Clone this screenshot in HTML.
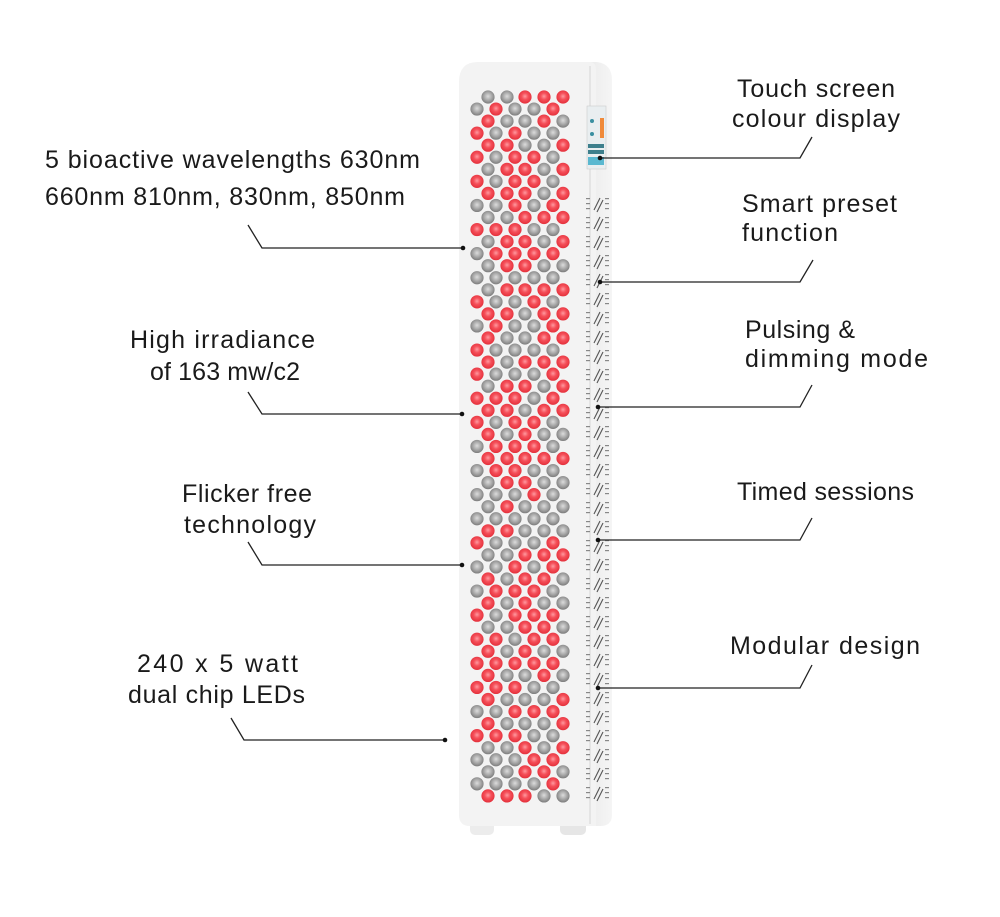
<!DOCTYPE html>
<html><head><meta charset="utf-8"><style>
html,body{margin:0;padding:0;background:#fff;}
svg{display:block;}
text{font-family:"Liberation Sans",sans-serif;font-size:25px;fill:#1a1a1a;}
</style></head><body>
<svg id="s" width="1000" height="917" viewBox="0 0 1000 917" xmlns="http://www.w3.org/2000/svg">
<defs>
<radialGradient id="rg" cx="50%" cy="45%" r="55%"><stop offset="0" stop-color="#ff9aa0"/><stop offset="0.45" stop-color="#f5505a"/><stop offset="1" stop-color="#e4303b"/></radialGradient>
<radialGradient id="gg" cx="50%" cy="45%" r="55%"><stop offset="0" stop-color="#dcdcdc"/><stop offset="0.55" stop-color="#a8a8a8"/><stop offset="1" stop-color="#7c7c7c"/></radialGradient>
<linearGradient id="side" x1="0" x2="1"><stop offset="0" stop-color="#e6e6e6"/><stop offset="1" stop-color="#f5f5f5"/></linearGradient>
</defs>
<rect x="470" y="815" width="24" height="20" rx="5" fill="#ececec"/>
<rect x="560" y="815" width="26" height="20" rx="5" fill="#e6e6e6"/>
<path d="M575 62 L597 62 Q612 64 612 80 L612 815 Q612 826 600 826 L580 826 Z" fill="url(#side)"/>
<path d="M478 62 L590 62 Q596 62 596 70 L596 826 L470 826 Q459 826 459 815 L459 82 Q459 62 478 62 Z" fill="#f3f3f3"/>
<line x1="590" y1="66" x2="590" y2="824" stroke="#e4e4e4" stroke-width="2"/>
<rect x="587" y="106" width="19" height="63" fill="#e9eef0" stroke="#ccc" stroke-width="0.6"/>
<rect x="600" y="118" width="4" height="20" fill="#f08a3a"/>
<circle cx="592" cy="121" r="2" fill="#3a8fa0"/>
<circle cx="592" cy="134" r="2" fill="#3a8fa0"/>
<rect x="588" y="144" width="16" height="4" fill="#3d7f8c"/>
<rect x="588" y="150" width="16" height="4" fill="#3d7f8c"/>
<rect x="588" y="157" width="16" height="8" fill="#5ab8d0"/>
<g id="vents"></g>
<g id="leds"></g>
<g stroke="#222" stroke-width="1.3" fill="none">
<polyline points="248,225 262,248 463,248"/>
<polyline points="248,392 262,414 462,414"/>
<polyline points="248,542 262,565 462,565"/>
<polyline points="231,718 244,740 445,740"/>
<polyline points="600,158 800,158 812,137"/>
<polyline points="600,282 800,282 813,260"/>
<polyline points="598,407 800,407 812,385"/>
<polyline points="598,540 800,540 812,518"/>
<polyline points="598,688 800,688 812,665"/>
</g>
<g fill="#111">
<circle cx="463" cy="248" r="2.3"/><circle cx="462" cy="414" r="2.3"/><circle cx="462" cy="565" r="2.3"/><circle cx="445" cy="740" r="2.3"/>
<circle cx="600" cy="158" r="2.3"/><circle cx="600" cy="282" r="2.3"/><circle cx="598" cy="407" r="2.3"/><circle cx="598" cy="540" r="2.3"/><circle cx="598" cy="688" r="2.3"/>
</g>
<text x="45" y="168" textLength="375" lengthAdjust="spacing">5 bioactive wavelengths 630nm</text>
<text x="45" y="205" textLength="360" lengthAdjust="spacing">660nm 810nm, 830nm, 850nm</text>
<text x="130" y="348" textLength="185" lengthAdjust="spacing">High irradiance</text>
<text x="150" y="380" textLength="150" lengthAdjust="spacing">of 163 mw/c2</text>
<text x="182" y="502" textLength="130" lengthAdjust="spacing">Flicker free</text>
<text x="184" y="533" textLength="132" lengthAdjust="spacing">technology</text>
<text x="137" y="672" textLength="161" lengthAdjust="spacing">240 x 5 watt</text>
<text x="128" y="703" textLength="177" lengthAdjust="spacing">dual chip LEDs</text>
<text x="737" y="97" textLength="158" lengthAdjust="spacing">Touch screen</text>
<text x="732" y="127" textLength="168" lengthAdjust="spacing">colour display</text>
<text x="742" y="212" textLength="155" lengthAdjust="spacing">Smart preset</text>
<text x="742" y="241" textLength="96" lengthAdjust="spacing">function</text>
<text x="745" y="338" textLength="110" lengthAdjust="spacing">Pulsing &amp;</text>
<text x="745" y="367" textLength="183" lengthAdjust="spacing">dimming mode</text>
<text x="737" y="500" textLength="177" lengthAdjust="spacing">Timed sessions</text>
<text x="730" y="654" textLength="190" lengthAdjust="spacing">Modular design</text>
</svg>
<script>
var NS="http://www.w3.org/2000/svg";
var g=document.getElementById("leds");
var seed=7;function rnd(){seed=(seed*9301+49297)%233280;return seed/233280;}
for(var r=0;r<59;r++){
  var y=97+r*12.05;
  var xs=(r%2==0)?[488,507,525,544,563]:[477,496,515,534,553];
  for(var i=0;i<xs.length;i++){
    var c=document.createElementNS(NS,"circle");
    c.setAttribute("cx",xs[i]);c.setAttribute("cy",y);c.setAttribute("r",6.6);
    c.setAttribute("fill",rnd()<0.47?"url(#rg)":"url(#gg)");
    g.appendChild(c);
  }
}
var v=document.getElementById("vents");
for(var y=198;y<800;y+=19){
  var p=document.createElementNS(NS,"path");
  p.setAttribute("d","M594 "+(y+12)+" L600 "+y+" M597 "+(y+14)+" L603 "+(y+2));
  p.setAttribute("stroke","#555");p.setAttribute("stroke-width","1.1");
  v.appendChild(p);
  for(var k=0;k<3;k++){
    var d=document.createElementNS(NS,"rect");
    d.setAttribute("x",586);d.setAttribute("y",y+k*5);d.setAttribute("width",4);d.setAttribute("height",1.2);d.setAttribute("fill","#888");v.appendChild(d);
    var e=document.createElementNS(NS,"rect");
    e.setAttribute("x",605);e.setAttribute("y",y+k*5);e.setAttribute("width",4);e.setAttribute("height",1.2);e.setAttribute("fill","#888");v.appendChild(e);
  }
}
</script>
</body></html>
